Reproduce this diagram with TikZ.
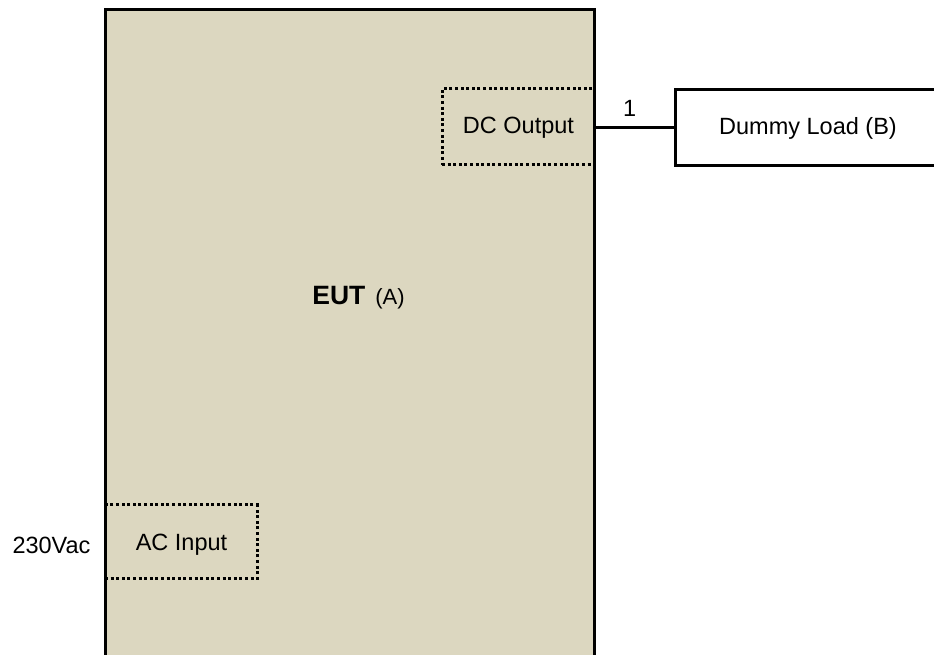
\documentclass[tikz,border=0pt]{standalone}
\usepackage{fontspec}
\setmainfont{Liberation Sans}
\definecolor{eutfill}{RGB}{220,215,192}
\begin{document}
\begin{tikzpicture}[x=1pt,y=1pt,
  lbl/.style={font=\fontsize{23.5}{28}\selectfont, inner sep=0pt},
  solidline/.style={line width=3pt, black},
  dotbox/.style={draw, line width=3pt, dash pattern=on 3pt off 2.6pt, inner sep=0pt},
  ]
\useasboundingbox (0,0) rectangle (934,655);
\clip (0,0) rectangle (934,655);
% EUT body
\fill[eutfill] (105,645.3) rectangle (594,-20);
\coordinate (eutNW) at (105,645.3);
\coordinate (eutSE) at (594,-20);
% dotted sub-boxes
\node[dotbox, minimum width=152pt, minimum height=76pt] (dc) at (518,528) {};
\node[lbl] (dctext) at (518.5,527) {DC Output};
\node[dotbox, minimum width=152pt, minimum height=74pt] (ac) at (181,113) {};
\node[lbl] (actext) at (181.5,110) {AC Input};
% EUT border
\draw[solidline] (eutNW) rectangle (eutSE);
% EUT label
\node[inner sep=0pt] (eut) at (358.5,357) {\fontsize{26.5}{30}\selectfont\textbf{EUT}\hspace{10pt}\fontsize{22}{26}\selectfont(A)};
% Dummy load
\node[draw, line width=3pt, minimum width=266pt, minimum height=76pt, inner sep=0pt] (load) at (808,527.5) {};
\node[lbl] (loadtext) at (808,527) {Dummy Load (B)};
\coordinate (dcE) at (594,527.5);
\draw[solidline] (dcE) -- (load.west) node[lbl, pos=0.45, above=9pt] (one) {1};
% 230Vac
\node[lbl] (vac) at (51.5,110) {230Vac};
\end{tikzpicture}
\end{document}
